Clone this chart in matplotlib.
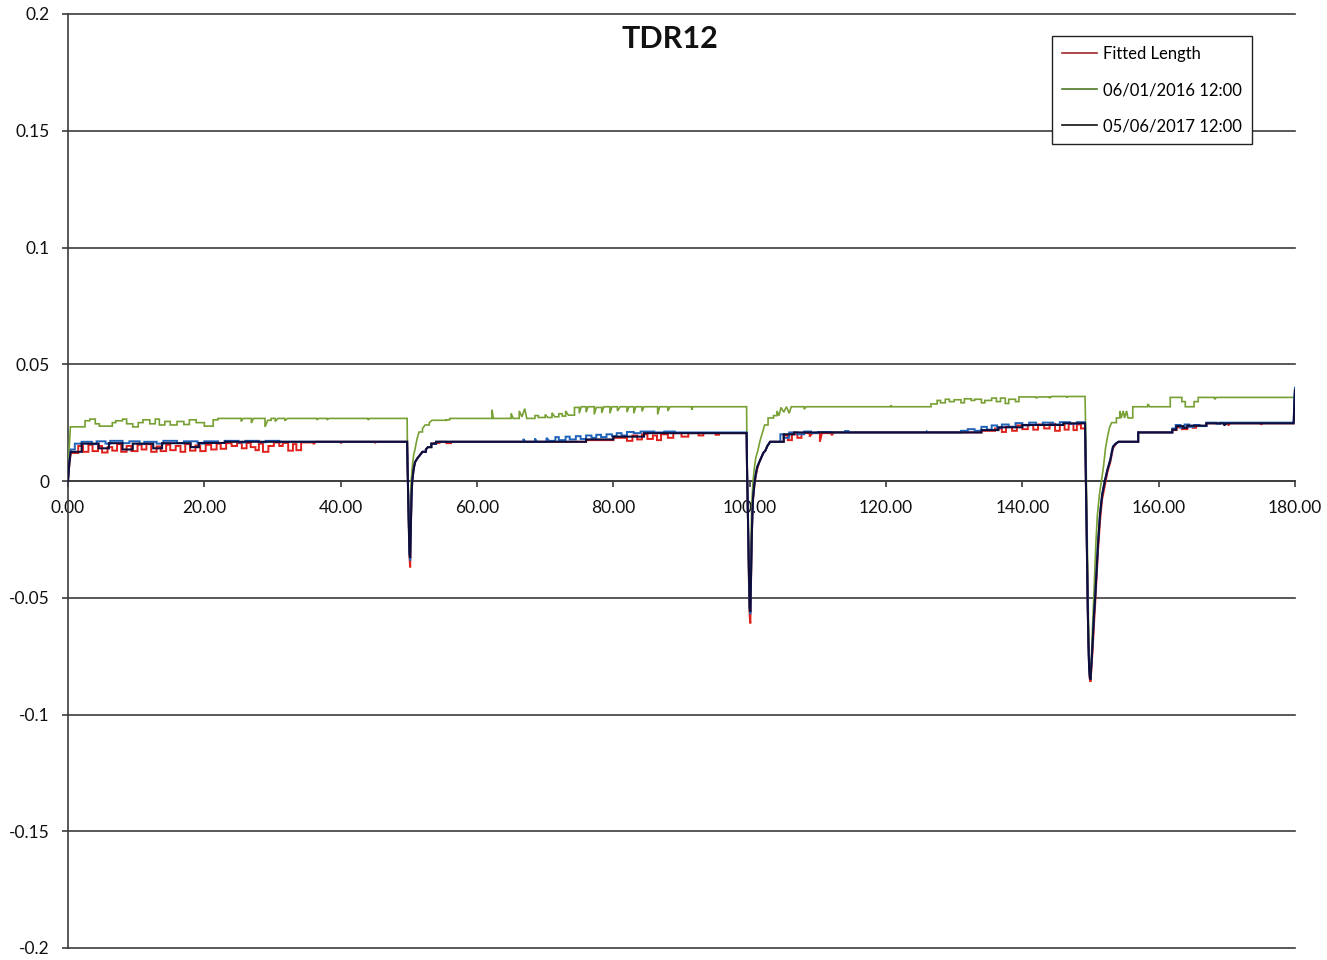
import matplotlib
matplotlib.use("Agg")
import matplotlib.pyplot as plt
from matplotlib.lines import Line2D

plt.rcParams["font.family"] = ["Lato", "DejaVu Sans"]

title = "TDR12"
legend_labels = ["Fitted Length", "06/01/2016 12:00", "05/06/2017 12:00"]
x_ticks = [0, 20, 40, 60, 80, 100, 120, 140, 160, 180]
y_ticks = [-0.2, -0.15, -0.1, -0.05, 0, 0.05, 0.1, 0.15, 0.2]
y_tick_labels = ["-0.2", "-0.15", "-0.1", "-0.05", "0", "0.05", "0.1", "0.15", "0.2"]

# (distance, value) readings; sparse readings are held until the next one,
# densely spaced readings (the dips) are joined directly
fitted = [
    (0.0, 0.0), (0.2, 0.007), (0.4, 0.0120), (1.5, 0.0150), (2.2, 0.0125), (3.0, 0.0155),
    (3.6, 0.0128), (4.4, 0.0150), (5.0, 0.0122), (5.8, 0.0145), (6.5, 0.0130), (7.2, 0.0158),
    (7.8, 0.0125), (8.6, 0.0150), (9.3, 0.0128), (10.2, 0.0155), (10.8, 0.0135), (11.5, 0.0158),
    (12.2, 0.0125), (13.0, 0.0148), (13.6, 0.0128), (14.4, 0.0155), (15.0, 0.0132), (15.8, 0.0150),
    (16.5, 0.0125), (17.2, 0.0158), (17.9, 0.0130), (18.7, 0.0152), (19.4, 0.0128), (20.2, 0.0155),
    (21.0, 0.0135), (21.8, 0.0160), (22.4, 0.0138), (23.2, 0.0162), (24.0, 0.0150), (24.8, 0.0162),
    (25.5, 0.0140), (26.2, 0.0163), (26.8, 0.0145), (27.5, 0.0132), (28.0, 0.0160), (28.6, 0.0125),
    (29.4, 0.0150), (30.2, 0.0165), (31.0, 0.0150), (31.5, 0.0163), (32.3, 0.0130), (33.0, 0.0158),
    (33.5, 0.0132), (34.2, 0.0165), (36.0, 0.0158), (36.4, 0.0168), (40.0, 0.0162), (40.3, 0.0168),
    (45.0, 0.0163), (45.3, 0.0168),
    (49.75, 0.0168), (49.8, 0.008), (49.9, -0.006), (50.0, -0.020), (50.1, -0.033), (50.2, -0.037),
    (50.3, -0.020), (50.4, -0.007), (50.5, 0.0), (50.7, 0.005), (50.9, 0.008), (51.2, 0.0095),
    (51.6, 0.011), (52.0, 0.0125), (52.5, 0.0135), (52.8, 0.0145), (53.3, 0.0160), (53.8, 0.0163),
    (54.5, 0.0168), (55.5, 0.0162), (56.2, 0.0168),
    (76.0, 0.0175), (80.0, 0.0185), (82.0, 0.0172), (82.8, 0.0195), (83.5, 0.0178), (84.2, 0.0200),
    (85.0, 0.0180), (85.8, 0.0195), (86.4, 0.0175), (87.0, 0.0200), (88.0, 0.0185), (88.8, 0.0205),
    (90.0, 0.0190), (91.0, 0.0205), (92.5, 0.0195), (93.2, 0.0205), (95.0, 0.0198), (95.5, 0.0205),
    (99.55, 0.0205), (99.6, 0.008), (99.7, -0.008), (99.8, -0.025), (99.9, -0.045), (100.0, -0.058),
    (100.1, -0.061), (100.2, -0.042), (100.3, -0.026), (100.4, -0.015), (100.5, -0.008),
    (100.7, -0.002), (100.9, 0.002), (101.1, 0.005), (101.4, 0.008), (101.7, 0.010), (102.0, 0.012),
    (102.3, 0.013), (102.6, 0.015), (103.0, 0.0168),
    (105.0, 0.0195), (105.6, 0.0175), (106.2, 0.0200), (107.0, 0.0185), (107.6, 0.0205), (108.8, 0.0190),
    (109.2, 0.0205), (110.3, 0.0168), (110.6, 0.0205), (112.0, 0.0196), (112.4, 0.0208), (134.0, 0.0215),
    (136.0, 0.0225), (137.0, 0.0210), (137.6, 0.0232), (138.5, 0.0215), (139.2, 0.0238), (140.0, 0.0222),
    (140.8, 0.0240), (141.6, 0.0220), (142.3, 0.0242), (143.2, 0.0225), (144.0, 0.0245), (144.8, 0.0215),
    (145.5, 0.0240), (146.2, 0.0220), (146.8, 0.0245), (147.5, 0.0218), (148.0, 0.0242), (148.6, 0.0225),
    (149.2, 0.0225), (149.3, 0.005), (149.4, -0.015), (149.5, -0.035), (149.6, -0.055), (149.7, -0.070),
    (149.8, -0.080), (149.9, -0.085), (150.0, -0.086), (150.1, -0.082), (150.3, -0.073),
    (150.5, -0.062), (150.7, -0.052), (150.9, -0.041), (151.1, -0.030), (151.4, -0.017),
    (151.7, -0.008), (152.1, -0.002), (152.5, 0.004), (152.9, 0.008), (153.1, 0.011), (153.3, 0.014),
    (153.7, 0.0158), (154.1, 0.0168),
    (157.0, 0.0208), (162.0, 0.0218), (162.6, 0.0230), (163.4, 0.0222), (164.2, 0.0235), (165.0, 0.0228),
    (165.5, 0.0236), (167.0, 0.0247), (170.2, 0.0238), (170.5, 0.0247), (175.0, 0.0242), (175.3, 0.0247),
    (179.8, 0.0247), (179.9, 0.0270), (180.0, 0.0300),
]

reading_2016 = [
    (0.0, 0.0), (0.15, 0.013), (0.35, 0.0232), (2.5, 0.0258), (3.2, 0.0265), (4.0, 0.0245),
    (4.6, 0.0235), (6.5, 0.0250), (7.0, 0.0258), (8.0, 0.0265), (8.6, 0.0245), (9.5, 0.0232),
    (10.3, 0.0250), (11.0, 0.0262), (12.0, 0.0245), (12.8, 0.0265), (13.4, 0.0240), (14.2, 0.0255),
    (15.0, 0.0240), (16.0, 0.0255), (17.0, 0.0242), (17.8, 0.0262), (18.8, 0.0250), (20.0, 0.0235),
    (21.3, 0.0262), (22.0, 0.0268), (25.4, 0.0255), (25.7, 0.0268), (26.9, 0.0248), (27.2, 0.0268),
    (28.9, 0.0232), (29.3, 0.0260), (29.8, 0.0268), (30.4, 0.0255), (30.8, 0.0268), (31.8, 0.0258),
    (32.2, 0.0268), (36.5, 0.0262), (36.8, 0.0268), (38.0, 0.0262), (38.3, 0.0268), (44.0, 0.0262),
    (44.3, 0.0268),
    (49.75, 0.0268), (49.8, 0.012), (49.9, -0.005), (50.0, -0.020), (50.1, -0.030), (50.2, -0.015),
    (50.3, -0.002), (50.5, 0.006), (50.7, 0.011), (50.9, 0.0135), (51.2, 0.018), (51.5, 0.021),
    (52.0, 0.0225), (52.4, 0.024), (53.0, 0.025), (53.4, 0.026), (55.5, 0.0262), (56.0, 0.0268),
    (62.2, 0.0305), (62.4, 0.0268), (65.0, 0.0290), (65.3, 0.0268), (66.2, 0.0300), (66.6, 0.0275),
    (67.0, 0.0310), (67.3, 0.0268), (68.5, 0.0280), (69.0, 0.0272), (70.0, 0.0285), (70.4, 0.0272),
    (71.0, 0.0292), (71.4, 0.0275), (72.0, 0.0288), (72.5, 0.0278), (73.0, 0.0300), (73.4, 0.0282),
    (74.3, 0.0315), (75.0, 0.0290), (75.3, 0.0318), (76.0, 0.0295), (76.3, 0.0318), (77.2, 0.0285),
    (77.5, 0.0315), (78.3, 0.0292), (78.6, 0.0318), (79.5, 0.0290), (79.8, 0.0318), (80.6, 0.0300),
    (81.0, 0.0318), (82.0, 0.0295), (82.3, 0.0318), (83.0, 0.0290), (83.3, 0.0318), (84.2, 0.0298),
    (84.5, 0.0318), (86.5, 0.0285), (86.8, 0.0318), (88.0, 0.0300), (88.3, 0.0318), (91.5, 0.0305),
    (91.7, 0.0318),
    (99.55, 0.0318), (99.6, 0.012), (99.7, -0.010), (99.8, -0.030), (99.9, -0.048), (100.0, -0.056),
    (100.1, -0.045), (100.2, -0.025), (100.3, -0.010), (100.5, 0.0), (100.7, 0.006), (100.9, 0.010),
    (101.2, 0.013), (101.5, 0.017), (101.8, 0.020), (102.2, 0.024), (102.7, 0.027), (103.5, 0.028),
    (104.0, 0.0300), (104.3, 0.0280), (104.6, 0.0315), (105.0, 0.0295), (105.4, 0.0318), (105.8, 0.0290),
    (106.1, 0.0318), (108.0, 0.0308), (108.3, 0.0318), (120.7, 0.0325), (120.9, 0.0318),
    (126.6, 0.0330), (127.5, 0.0345), (128.0, 0.0335), (128.7, 0.0350), (129.3, 0.0340), (130.0, 0.0348),
    (131.0, 0.0335), (131.5, 0.0352), (132.5, 0.0345), (133.0, 0.0350), (134.0, 0.0335), (134.5, 0.0345),
    (135.5, 0.0355), (136.2, 0.0340), (136.8, 0.0355), (137.5, 0.0332), (138.0, 0.0350), (139.0, 0.0340),
    (139.5, 0.0360), (142.0, 0.0355), (142.4, 0.0360), (144.0, 0.0355), (144.3, 0.0362), (146.5, 0.0358),
    (146.8, 0.0362),
    (149.2, 0.0362), (149.3, 0.020), (149.4, 0.000), (149.5, -0.020), (149.6, -0.040), (149.7, -0.060),
    (149.8, -0.075), (149.9, -0.083), (150.0, -0.086), (150.1, -0.080), (150.2, -0.070), (150.4, -0.055),
    (150.6, -0.040), (150.8, -0.026), (151.0, -0.015), (151.3, -0.006), (151.6, 0.000), (151.9, 0.006),
    (152.2, 0.014), (152.5, 0.019), (152.8, 0.023), (153.1, 0.025), (153.8, 0.027), (154.3, 0.030),
    (154.5, 0.027), (154.8, 0.030), (155.0, 0.027), (155.3, 0.030), (155.5, 0.027),
    (156.2, 0.0318), (158.4, 0.0330), (158.7, 0.0318), (161.7, 0.0358), (163.4, 0.0340), (163.9, 0.0318),
    (165.2, 0.0340), (165.8, 0.0358), (168.2, 0.0350), (168.5, 0.0358), (180.0, 0.0358),
]

reading_2017 = [
    (0.0, 0.0), (0.2, 0.008), (0.4, 0.0125), (2.0, 0.0160), (4.5, 0.0140), (6.0, 0.0162),
    (8.0, 0.0135), (9.5, 0.0160), (12.5, 0.0140), (13.8, 0.0162), (18.0, 0.0145), (19.2, 0.0163),
    (23.0, 0.0168),
    (49.75, 0.0168), (49.8, 0.008), (49.9, -0.006), (50.0, -0.020), (50.1, -0.031), (50.2, -0.033),
    (50.3, -0.018), (50.4, -0.006), (50.5, 0.0), (50.7, 0.005), (50.9, 0.008), (51.2, 0.0095),
    (51.6, 0.011), (52.0, 0.0125), (52.5, 0.0135), (52.8, 0.0145), (53.3, 0.0160), (54.0, 0.0168),
    (76.0, 0.0178), (80.0, 0.0190), (84.5, 0.0205),
    (99.55, 0.0205), (99.6, 0.008), (99.7, -0.008), (99.8, -0.025), (99.9, -0.042), (100.0, -0.054),
    (100.1, -0.056), (100.2, -0.040), (100.3, -0.025), (100.4, -0.014), (100.5, -0.007),
    (100.7, -0.001), (100.9, 0.003), (101.1, 0.006), (101.4, 0.008), (101.7, 0.010), (102.0, 0.012),
    (102.3, 0.013), (102.6, 0.015), (103.0, 0.0168),
    (105.0, 0.0200), (106.5, 0.0208), (134.0, 0.0218), (136.5, 0.0230), (140.0, 0.0240), (146.0, 0.0247),
    (149.2, 0.0247), (149.3, 0.005), (149.4, -0.015), (149.5, -0.035), (149.6, -0.055), (149.7, -0.070),
    (149.8, -0.080), (149.9, -0.084), (150.0, -0.085), (150.1, -0.080), (150.3, -0.070),
    (150.5, -0.058), (150.7, -0.049), (150.9, -0.038), (151.1, -0.027), (151.4, -0.014),
    (151.7, -0.006), (152.1, 0.0), (152.5, 0.005), (152.9, 0.009), (153.1, 0.012), (153.3, 0.0147),
    (153.7, 0.0160), (154.1, 0.0168),
    (157.0, 0.0208), (162.0, 0.0220), (162.6, 0.0235), (163.6, 0.0228), (164.2, 0.0237), (167.0, 0.0247),
    (169.6, 0.0238), (170.0, 0.0247), (179.8, 0.0247), (179.87, 0.030), (179.93, 0.036), (180.0, 0.039),
]

reading_mid = [
    (0.0, 0.0), (0.2, 0.009), (0.4, 0.0135), (1.0, 0.0160), (2.0, 0.0168), (3.5, 0.0158),
    (4.2, 0.0170), (5.5, 0.0160), (6.2, 0.0172), (8.0, 0.0162), (9.0, 0.0170), (10.5, 0.0158),
    (11.2, 0.0168), (13.0, 0.0160), (14.0, 0.0172), (16.0, 0.0162), (17.0, 0.0170), (19.0, 0.0160),
    (20.0, 0.0170), (22.0, 0.0163), (23.0, 0.0172), (25.0, 0.0165), (26.0, 0.0172), (28.0, 0.0166),
    (29.0, 0.0172), (31.0, 0.0168),
    (49.75, 0.0168), (49.8, 0.008), (49.9, -0.006), (50.0, -0.020), (50.1, -0.032), (50.2, -0.034),
    (50.3, -0.018), (50.4, -0.006), (50.5, 0.0), (50.7, 0.005), (50.9, 0.008), (51.2, 0.0095),
    (51.6, 0.011), (52.0, 0.0125), (52.5, 0.0135), (52.8, 0.0145), (53.3, 0.0160), (54.0, 0.0168),
    (66.8, 0.0180), (67.1, 0.0168), (68.5, 0.0182), (68.8, 0.0168), (70.2, 0.0185), (70.6, 0.0172),
    (71.5, 0.0188), (72.0, 0.0175), (73.0, 0.0190), (73.6, 0.0178), (74.5, 0.0192), (75.2, 0.0180),
    (76.0, 0.0195), (76.8, 0.0185), (77.5, 0.0198), (78.2, 0.0188), (79.0, 0.0200), (79.8, 0.0192),
    (80.5, 0.0205), (81.2, 0.0195), (82.0, 0.0210), (83.0, 0.0205), (84.0, 0.0212), (86.0, 0.0208),
    (87.5, 0.0212), (89.0, 0.0208),
    (99.55, 0.0208), (99.6, 0.008), (99.7, -0.008), (99.8, -0.025), (99.9, -0.043), (100.0, -0.055),
    (100.1, -0.057), (100.2, -0.041), (100.3, -0.025), (100.4, -0.014), (100.5, -0.007),
    (100.7, -0.001), (100.9, 0.003), (101.1, 0.006), (101.4, 0.008), (101.7, 0.010), (102.0, 0.012),
    (102.3, 0.013), (102.6, 0.015), (103.0, 0.0168),
    (104.5, 0.0200), (105.0, 0.0185), (105.8, 0.0208), (107.0, 0.0200), (108.0, 0.0212), (109.0, 0.0205),
    (110.0, 0.0210), (112.0, 0.0208), (114.0, 0.0214), (114.5, 0.0208), (126.0, 0.0212), (126.3, 0.0208),
    (131.0, 0.0215), (132.0, 0.0222), (133.0, 0.0215), (134.0, 0.0232), (134.8, 0.0220), (135.5, 0.0238),
    (136.3, 0.0228), (137.0, 0.0242), (138.0, 0.0232), (139.0, 0.0248), (140.0, 0.0238), (141.0, 0.0250),
    (142.0, 0.0240), (143.0, 0.0250), (144.5, 0.0242), (145.5, 0.0252), (147.0, 0.0245), (148.0, 0.0252),
    (149.2, 0.0252), (149.3, 0.005), (149.4, -0.015), (149.5, -0.035), (149.6, -0.055), (149.7, -0.070),
    (149.8, -0.080), (149.9, -0.084), (150.0, -0.085), (150.1, -0.080), (150.3, -0.070),
    (150.5, -0.058), (150.7, -0.049), (150.9, -0.038), (151.1, -0.027), (151.4, -0.014),
    (151.7, -0.006), (152.1, 0.0), (152.5, 0.005), (152.9, 0.009), (153.1, 0.012), (153.3, 0.0147),
    (153.7, 0.0160), (154.1, 0.0168),
    (157.0, 0.0208), (162.0, 0.0225), (162.5, 0.0240), (163.2, 0.0228), (163.8, 0.0242), (164.5, 0.0232),
    (165.2, 0.0240), (166.0, 0.0235), (167.0, 0.0250), (168.5, 0.0245), (169.0, 0.0250),
    (179.8, 0.0250), (179.87, 0.032), (179.93, 0.037), (180.0, 0.040),
]

RED = "#e0201b"
GREEN = "#77a033"
BLUE = "#1f63b8"
NAVY = "#0e0e3c"
GRID = "#3c3c3c"
DENSE = 0.45  # readings closer than this are joined by straight segments

W, H = 1327, 960
fig = plt.figure(figsize=(W / 100, H / 100), dpi=100)
ax = fig.add_axes([68 / W, 12 / H, (1295 - 68) / W, (948 - 14) / H])


def trace(series):
    xs, ys = [series[0][0]], [series[0][1]]
    for (x0, y0), (x1, y1) in zip(series[:-1], series[1:]):
        if x1 - x0 > DENSE:
            xs.append(x1)
            ys.append(y0)
        xs.append(x1)
        ys.append(y1)
    return xs, ys


def draw(series, color, lw, z):
    xs, ys = trace(series)
    ax.plot(xs, ys, color=color, lw=lw, zorder=z, solid_joinstyle="miter")


draw(reading_2016, GREEN, 1.2, 3)
draw(fitted, RED, 1.4, 4)
draw(reading_mid, BLUE, 1.4, 5)
draw(reading_2017, NAVY, 1.5, 6)

ax.set_xlim(0, 180)
ax.set_ylim(-0.2, 0.2)

ax.set_xticks(x_ticks)
ax.set_xticklabels([f"{t:.2f}" for t in x_ticks])
ax.set_yticks(y_ticks)
ax.set_yticklabels(y_tick_labels)

ax.spines["top"].set_visible(False)
ax.spines["right"].set_visible(False)
ax.spines["bottom"].set_position(("data", 0))
for s in ("left", "bottom"):
    ax.spines[s].set_color(GRID)
    ax.spines[s].set_linewidth(1.2)

ax.grid(axis="y", color=GRID, lw=1.2, zorder=1)
ax.set_axisbelow(True)
for gl in ax.get_ygridlines():
    gl.set_clip_on(False)

ax.tick_params(axis="x", direction="out", length=4.5, width=1.2, color=GRID,
               pad=9.5, labelsize=12.5, labelcolor="#111111")
ax.tick_params(axis="y", direction="out", length=4.5, width=1.2, color=GRID,
               pad=9, labelsize=12.5, labelcolor="#111111")

fig.text(670 / W, 1 - 39 / H, title, ha="center", va="center",
         fontsize=22, fontweight="bold", color="#111111")

handles = [Line2D([], [], color=c, lw=1.2) for c in ("#a02828", "#4f7a28", "#111111")]
leg = ax.legend(handles, legend_labels, loc="upper left",
                bbox_to_anchor=(1052 / W, 1 - 36 / H), bbox_transform=fig.transFigure,
                borderaxespad=0, frameon=True, fancybox=False, framealpha=1,
                edgecolor="#222222", fontsize=12, handlelength=2.1, handletextpad=0.35,
                labelspacing=1.2, borderpad=0.6)
leg.get_frame().set_linewidth(1.0)
leg.set_zorder(10)

fig.savefig("out.png", dpi=100, facecolor="white")
